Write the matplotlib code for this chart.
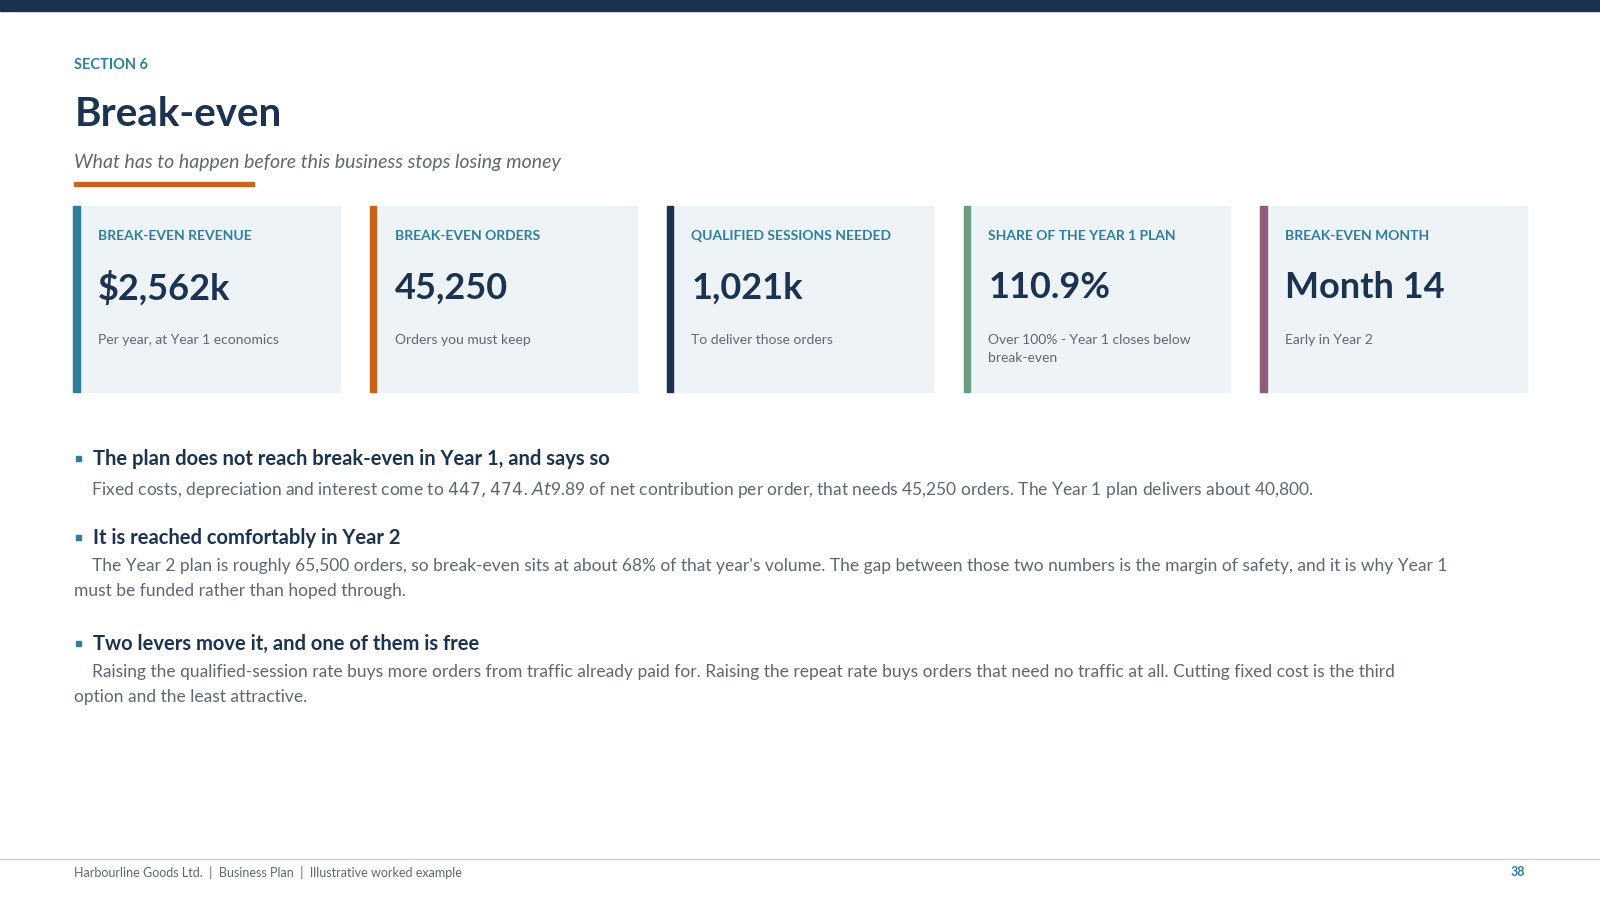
import matplotlib.pyplot as plt
from matplotlib.patches import Rectangle

plt.rcParams['font.family'] = ['Lato', 'DejaVu Sans']

# card data
card_labels = ['BREAK-EVEN REVENUE', 'BREAK-EVEN ORDERS', 'QUALIFIED SESSIONS NEEDED',
               'SHARE OF THE YEAR 1 PLAN', 'BREAK-EVEN MONTH']
card_values = ['$2,562k', '45,250', '1,021k', '110.9%', 'Month 14']
card_notes = ['Per year, at Year 1 economics', 'Orders you must keep', 'To deliver those orders',
              'Over 100% - Year 1 closes below\nbreak-even', 'Early in Year 2']
card_colors = ['#2f7f9c', '#c8651b', '#1b3350', '#6b9e80', '#8e5a78']

bullet_heads = ['The plan does not reach break-even in Year 1, and says so',
                'It is reached comfortably in Year 2',
                'Two levers move it, and one of them is free']
bullet_bodies = [
    '    Fixed costs, depreciation and interest come to $447,474. At $9.89 of net contribution per order, that needs 45,250 orders. The Year 1 plan delivers about 40,800.',
    "    The Year 2 plan is roughly 65,500 orders, so break-even sits at about 68% of that year's volume. The gap between those two numbers is the margin of safety, and it is why Year 1\nmust be funded rather than hoped through.",
    '    Raising the qualified-session rate buys more orders from traffic already paid for. Raising the repeat rate buys orders that need no traffic at all. Cutting fixed cost is the third\noption and the least attractive.',
]
bullet_y = [450, 527, 631]

navy = '#1b3350'
teal = '#2f7f9c'
grey = '#5f6770'

fig = plt.figure(figsize=(16, 9), dpi=100)
ax = fig.add_axes([0, 0, 1, 1])
ax.set_xlim(0, 1568)
ax.set_ylim(882, 0)
ax.axis('off')

ax.add_patch(Rectangle((0, 0), 1568, 11, color=navy))
ax.text(73, 64, 'SECTION 6', color=teal, fontsize=10.5, fontweight='bold', va='center')
ax.text(73, 112, 'Break-even', color=navy, fontsize=29, fontweight='bold', va='center')
ax.text(73, 159, 'What has to happen before this business stops losing money', color=grey,
        fontsize=14, style='italic', va='center')
ax.add_patch(Rectangle((73, 178), 176, 4, color='#c8651b'))

card_w = 261
for i in range(len(card_labels)):
    x0 = 72 + i * 290.8
    ax.add_patch(Rectangle((x0, 202), card_w, 182, color='#eef3f7'))
    ax.add_patch(Rectangle((x0, 202), 6, 182, color=card_colors[i]))
    ax.text(x0 + 24, 231, card_labels[i], color=teal, fontsize=10, fontweight='bold', va='center')
    ax.text(x0 + 24, 282, card_values[i], color=navy, fontsize=26, fontweight='bold', va='center')
    ax.text(x0 + 24, 327, card_notes[i], color=grey, fontsize=10, va='top', linespacing=1.6)

for head, body, y in zip(bullet_heads, bullet_bodies, bullet_y):
    ax.add_patch(Rectangle((74, y - 3), 5, 5, color=teal))
    ax.text(91, y, head, color=navy, fontsize=14.5, fontweight='bold', va='center')
    ax.text(73, y + 20, body, color=grey, fontsize=12.5, va='top', linespacing=1.65)

ax.plot([0, 1568], [842, 842], color='#c9d3dc', lw=1)
ax.text(73, 855, 'Harbourline Goods Ltd.  |  Business Plan  |  Illustrative worked example',
        color=grey, fontsize=9, va='center')
ax.text(1495, 855, '38', color=teal, fontsize=9, fontweight='bold', va='center', ha='right')

fig.savefig('out.png', dpi=100)
